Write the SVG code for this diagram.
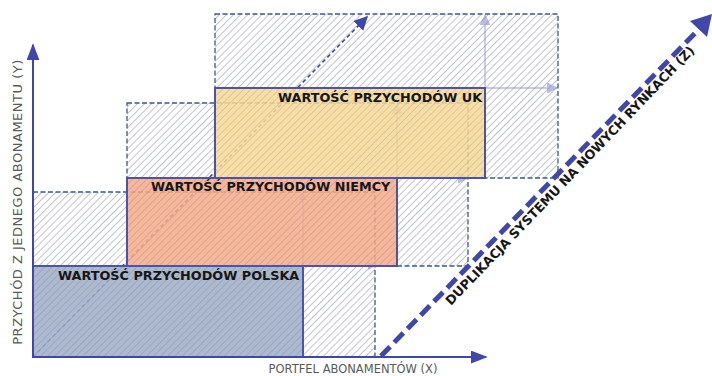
<svg xmlns="http://www.w3.org/2000/svg" width="712" height="376" viewBox="0 0 712 376">
<style>
.ext{stroke:#3d5889;stroke-width:1.3;stroke-dasharray:5 2.5;fill:url(#hatchW)}
.solid{stroke:#4d52ad;stroke-width:2}
.hat{fill:url(#hatchD);stroke:none}
.lbl{font-family:"DejaVu Sans",sans-serif;font-weight:bold;font-size:12.8px;fill:#161616}
.ax{font-family:"DejaVu Sans",sans-serif;fill:#5a5a5a}
.faint{stroke:#8a8ec8;stroke-width:1.4;fill:none;opacity:0.6}
</style>
<defs>
<pattern id="hatchW" width="5" height="5" patternUnits="userSpaceOnUse" patternTransform="rotate(45)">
<rect width="5" height="5" fill="#ffffff"/>
<line x1="0" y1="0" x2="0" y2="5" stroke="#8d93a4" stroke-width="1.1"/>
</pattern>
<pattern id="hatchD" width="5" height="5" patternUnits="userSpaceOnUse" patternTransform="rotate(45)">
<line x1="0" y1="0" x2="0" y2="5" stroke="#4f5570" stroke-width="1.1" stroke-opacity="0.22"/>
</pattern>
<marker id="ahF" viewBox="0 0 10 10" refX="9" refY="5" markerWidth="8" markerHeight="8" orient="auto" markerUnits="userSpaceOnUse">
<path d="M0,0L10,5L0,10z" fill="#8b8fcc"/>
</marker>
<marker id="ahF2" viewBox="0 0 10 10" refX="9" refY="5" markerWidth="12" markerHeight="11" orient="auto" markerUnits="userSpaceOnUse">
<path d="M0,0L10,5L0,10z" fill="#8b8fcc"/>
</marker>
<marker id="ahD" viewBox="0 0 10 10" refX="9" refY="5" markerWidth="14" markerHeight="14" orient="auto" markerUnits="userSpaceOnUse">
<path d="M0,0L10,5L0,10z" fill="#3f48aa"/>
</marker>
<marker id="ahAx" viewBox="0 0 10 10" refX="9" refY="5" markerWidth="17" markerHeight="13" orient="auto" markerUnits="userSpaceOnUse" preserveAspectRatio="none">
<path d="M0,0L10,5L0,10z" fill="#3f48aa"/>
</marker>
</defs>

<g id="ext-uk"><rect class="ext" x="215" y="14" width="343" height="164"/></g>
<g id="ext-niemcy"><rect class="ext" x="127" y="103" width="341" height="163"/></g>
<g id="ext-polska"><rect class="ext" x="33" y="192" width="342" height="165"/></g>

<g id="connectors">
<line x1="33" y1="357" x2="367" y2="17" stroke="#3f48aa" stroke-width="1.6" stroke-dasharray="4 3" marker-end="url(#ahD)"/>
<line class="faint" x1="303" y1="266" x2="303" y2="193" marker-end="url(#ahF)"/>
<line class="faint" x1="303" y1="266" x2="375" y2="266" marker-end="url(#ahF)"/>
<line class="faint" x1="397" y1="178" x2="397" y2="104" marker-end="url(#ahF2)"/>
<line class="faint" x1="397" y1="178" x2="468" y2="178" marker-end="url(#ahF2)"/>
<line class="faint" x1="485" y1="88" x2="485" y2="15" marker-end="url(#ahF2)"/>
<line class="faint" x1="485" y1="88" x2="557" y2="88" marker-end="url(#ahF2)"/>
</g>

<g id="polska">
<rect x="33" y="266" width="270" height="91" fill="#a2afc7" fill-opacity="0.88"/>
<rect class="hat" x="33" y="266" width="270" height="91"/>
<rect class="solid" x="33" y="266" width="270" height="91" fill="none"/>
<text class="lbl" x="58" y="280">WARTOŚĆ PRZYCHODÓW POLSKA</text>
</g>
<g id="niemcy">
<rect x="127" y="178" width="270" height="88" fill="#f6ab8a" fill-opacity="0.86"/>
<rect class="hat" x="127" y="178" width="270" height="88"/>
<rect class="solid" x="127" y="178" width="270" height="88" fill="none"/>
<text class="lbl" x="151" y="191">WARTOŚĆ PRZYCHODÓW NIEMCY</text>
</g>
<g id="uk">
<rect x="215" y="88" width="270" height="90" fill="#f6d896" fill-opacity="0.86"/>
<rect class="hat" x="215" y="88" width="270" height="90"/>
<rect class="solid" x="215" y="88" width="270" height="90" fill="none"/>
<text class="lbl" x="278" y="102">WARTOŚĆ PRZYCHODÓW UK</text>
</g>

<g id="axes">
<line x1="33" y1="358" x2="33" y2="45" stroke="#3f48aa" stroke-width="2" marker-end="url(#ahAx)"/>
<line x1="32" y1="357" x2="486" y2="357" stroke="#3f48aa" stroke-width="2" marker-end="url(#ahAx)"/>
<text class="ax" font-size="13" letter-spacing="0.5" x="0" y="0" transform="translate(22,202) rotate(-90)" text-anchor="middle">PRZYCHÓD Z JEDNEGO ABONAMENTU (Y)</text>
<text class="ax" font-size="11.5" x="353" y="373" text-anchor="middle">PORTFEL ABONAMENTÓW (X)</text>
</g>

<g id="duplikacja">
<line x1="381" y1="356" x2="700" y2="28" stroke="#3f48aa" stroke-width="5" stroke-dasharray="13 6"/>
<path d="M712,14 L707,37 L690,21 z" fill="#3f48aa"/>
<text class="lbl" x="0" y="0" transform="translate(451,306) rotate(-46.2)">DUPLIKACJA SYSTEMU NA NOWYCH RYNKACH (Z)</text>
</g>
</svg>
